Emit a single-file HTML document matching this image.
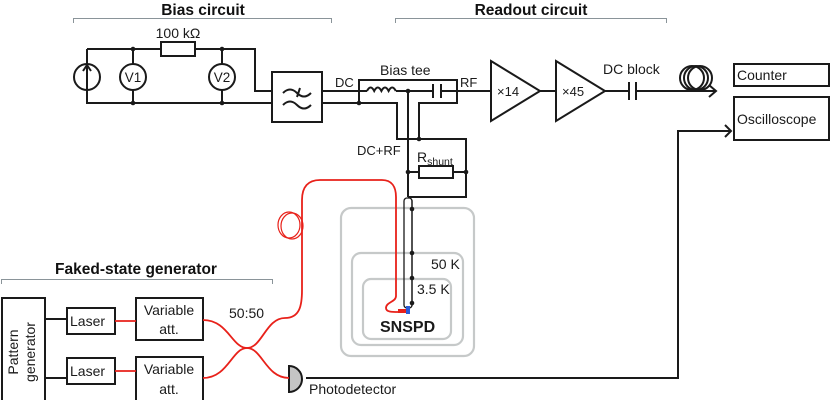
<!DOCTYPE html>
<html><head><meta charset="utf-8"><style>
html,body{margin:0;padding:0;background:#fff;}
svg{display:block;font-family:"Liberation Sans",Arial,sans-serif;}
</style></head><body>
<svg width="831" height="400" viewBox="0 0 831 400" xmlns="http://www.w3.org/2000/svg">
<g fill="none" stroke="#8a9499" stroke-width="1">
<path d="M73.5,23 V18.5 H331.5 V23"/>
<path d="M395.5,23 V18.5 H666.5 V23"/>
<path d="M1.5,284 V279.5 H272.5 V284"/>
</g>
<g font-weight="bold" font-size="15.5" fill="#111" text-anchor="middle">
<text x="203" y="15">Bias circuit</text>
<text x="531" y="15">Readout circuit</text>
<text x="136" y="274">Faked-state generator</text>
</g>
<g fill="none" stroke="#c6c9c9" stroke-width="2.2">
<rect x="341" y="208" width="133" height="148" rx="10"/>
<rect x="352" y="253" width="111" height="92" rx="9"/>
<rect x="363" y="279" width="88" height="60" rx="8"/>
</g>
<g stroke="#1a1a1a" stroke-width="2" fill="none">
<path d="M87,49 H161 M195,49 H255 V91 H272"/>
<path d="M87,49 V103 H272"/>
<path d="M133,49 V103 M222,49 V103"/>
<rect x="161" y="42" width="34" height="14" fill="#fff"/>
<circle cx="87" cy="77" r="13" fill="#fff"/>
<path d="M87,90 V66 M83,71 L87,65 L91,71"/>
<circle cx="133" cy="77" r="13" fill="#fff"/>
<circle cx="222" cy="77" r="13" fill="#fff"/>
<rect x="272" y="72" width="50" height="50"/>
<path d="M283,93 q7,-7 14,0 t14,0 M283,105 q7,-7 14,0 t14,0 M300,88 l-3,9"/>
<path d="M322,91 H367 M396,91 H433 M441,91 H491"/>
<path d="M367,91 q3.6,-7 7.2,0 q3.6,-7 7.2,0 q3.6,-7 7.2,0 q3.6,-7 7.2,0"/>
<path d="M433,84 V98 M441,84 V98"/>
<path d="M322,103 H397 V139 H466 V197 H408"/>
<path d="M359,103 V80 H457 V103 H419 V139"/>
<path d="M408,91 V197"/>
<path d="M408,172 H419 M453,172 H466"/>
<rect x="419" y="166" width="34" height="12"/>
<path d="M491,61 L540,91 L491,121 Z"/>
<path d="M540,91 H556"/>
<path d="M556,61 L605,91 L556,121 Z"/>
<path d="M605,91 H629 M636,91 H716 M709,85 L716,91 L709,97"/>
<path d="M629,82 V100 M636,82 V100"/>
<circle cx="692" cy="78" r="12"/><circle cx="696" cy="78" r="12"/><circle cx="700" cy="78" r="12"/>
<rect x="734" y="64" width="95" height="22"/>
<rect x="734" y="97" width="95" height="43"/>
<path d="M306,378 H678 V131 H731 M725,125 L731,131 L725,137"/>
<rect x="2" y="298" width="43" height="110"/>
<rect x="67" y="308" width="48" height="26"/>
<rect x="67" y="358" width="48" height="26"/>
<rect x="136" y="298" width="67" height="42"/>
<rect x="136" y="357" width="67" height="45"/>
<path d="M45,319 H67 M45,378 H67"/>
<path d="M289,366 A13,13 0 0 1 289,392 Z" fill="#c4c4c4"/>
<path d="M289,365 V393"/>
<rect x="404" y="198" width="8" height="110" rx="3" stroke-width="1.3"/>
<path d="M412,200 V306" stroke-width="1.3"/>
</g>
<g fill="#1a1a1a">
<circle cx="133" cy="49" r="2.3"/><circle cx="222" cy="49" r="2.3"/>
<circle cx="133" cy="103" r="2.3"/><circle cx="222" cy="103" r="2.3"/>
<circle cx="359" cy="103" r="2.3"/><circle cx="408" cy="91" r="2.3"/>
<circle cx="419" cy="139" r="2.3"/><circle cx="408" cy="172" r="2.3"/><circle cx="466" cy="172" r="2.3"/>
<circle cx="412" cy="209" r="2.3"/><circle cx="412" cy="253" r="2.3"/><circle cx="412" cy="278" r="2.3"/><circle cx="412" cy="303" r="2.3"/>
</g>
<g stroke="#e8211a" stroke-width="1.8" fill="none">
<path d="M115,321 H136 M115,371 H136"/>
<path d="M203,320 C228,320 232,348 247,348 C262,348 266,318 285,318 C300,318 302,305 302,290 V200 C302,187 308,180 320,180 H382 C392,180 396,187 396,197 V296 C396,302 386,302 386,308 C386,312 392,312 398,312"/>
<path d="M203,378 C228,378 232,348 247,348 C262,348 266,378 289,378"/>
<ellipse cx="289" cy="225" rx="11" ry="13" stroke-width="1.2"/><ellipse cx="292" cy="226" rx="11" ry="13" stroke-width="1.2"/>
</g>
<rect x="398" y="309" width="8" height="4" fill="#e8211a"/>
<rect x="406" y="306" width="4" height="8" fill="#2a5bd7"/>
<g font-size="14" fill="#1a1a1a">
<text x="178" y="38" text-anchor="middle">100 kΩ</text>
<text x="133" y="82" text-anchor="middle" font-size="13.5">V1</text>
<text x="222" y="82" text-anchor="middle" font-size="13.5">V2</text>
<text x="335" y="87" font-size="13">DC</text>
<text x="380" y="75">Bias tee</text>
<text x="460" y="87" font-size="13">RF</text>
<text x="357" y="155" font-size="13">DC+RF</text>
<text x="417" y="162">R<tspan font-size="10.5" dy="3">shunt</tspan></text>
<text x="497" y="96" font-size="13">×14</text>
<text x="562" y="96" font-size="13">×45</text>
<text x="603" y="74">DC block</text>
<text x="737" y="80">Counter</text>
<text x="737" y="124">Oscilloscope</text>
<text x="431" y="269">50 K</text>
<text x="417" y="294">3.5 K</text>
<text x="380" y="332" font-weight="bold" font-size="16">SNSPD</text>
<text x="229" y="318">50:50</text>
<text x="70" y="326">Laser</text>
<text x="70" y="376">Laser</text>
<text x="169" y="315" text-anchor="middle">Variable</text>
<text x="169" y="334" text-anchor="middle">att.</text>
<text x="169" y="374" text-anchor="middle">Variable</text>
<text x="169" y="394" text-anchor="middle">att.</text>
<text x="309" y="394">Photodetector</text>
<text transform="translate(18,352) rotate(-90)" text-anchor="middle">Pattern</text>
<text transform="translate(35,352) rotate(-90)" text-anchor="middle">generator</text>
</g>
</svg>
</body></html>
